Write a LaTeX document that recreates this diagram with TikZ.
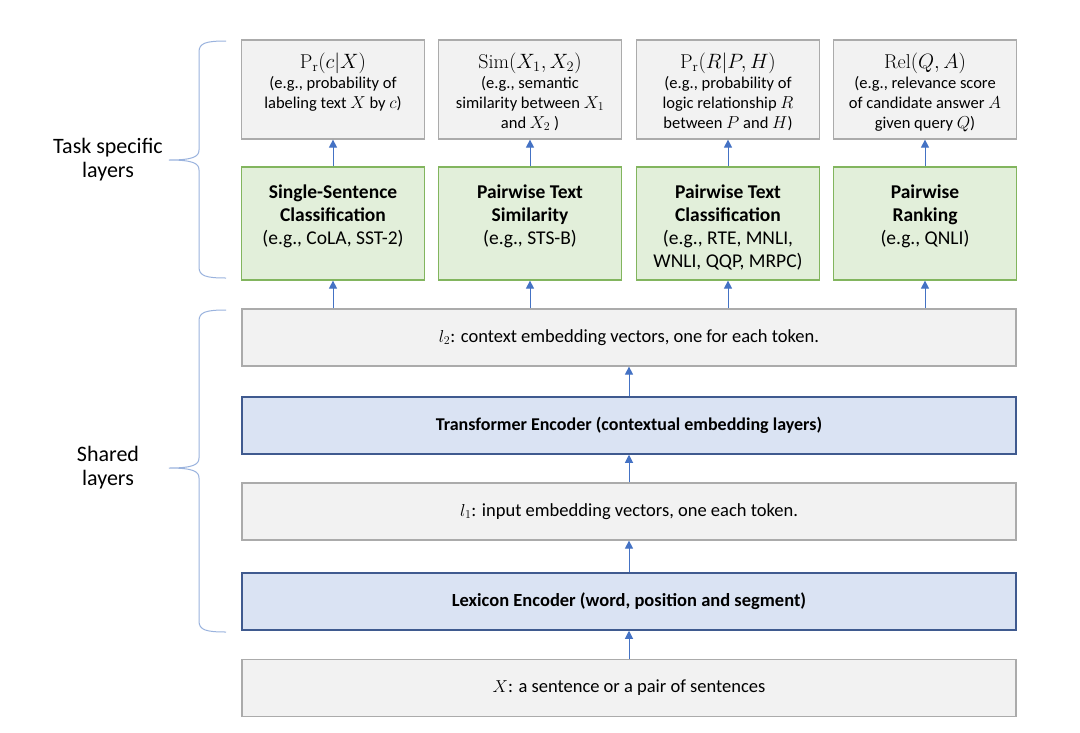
\documentclass[tikz,border=0pt]{standalone}
\usepackage{fontspec}
\setmainfont{Carlito}
\setmathrm{Latin Modern Roman}
\usetikzlibrary{arrows.meta}
\definecolor{grayfill}{HTML}{F2F2F2}
\definecolor{grayline}{HTML}{ABABAB}
\definecolor{greenfill}{HTML}{E2EFDA}
\definecolor{greenline}{HTML}{82B55E}
\definecolor{bluefill}{HTML}{DAE3F3}
\definecolor{blueline}{HTML}{3F5A8F}
\definecolor{arrowblue}{HTML}{4472C4}
\definecolor{bracecol}{HTML}{9AB3DE}
\tikzset{
  outbox/.style={draw=grayline, fill=grayfill, line width=1.2pt, minimum width=183pt, minimum height=99pt, inner sep=0pt},
  taskbox/.style={draw=greenline, fill=greenfill, line width=1.2pt, minimum width=183pt, minimum height=113pt, inner sep=0pt},
  widegray/.style={draw=grayline, fill=grayfill, line width=1.2pt, minimum width=774pt, minimum height=57pt, inner sep=0pt, font=\fontsize{18.5}{22}\selectfont},
  wideblue/.style={draw=blueline, fill=bluefill, line width=1.5pt, minimum width=774pt, minimum height=57pt, inner sep=0pt, font=\bfseries\fontsize{18}{22}\selectfont},
  outtext/.style={anchor=north, align=center, inner sep=0pt, font=\fontsize{16.5}{20}\selectfont},
  tasktext/.style={anchor=north, align=center, inner sep=0pt, font=\fontsize{19.5}{23}\selectfont},
  sidetext/.style={align=center, inner sep=0pt, font=\fontsize{22}{24}\selectfont},
  arr/.style={draw=arrowblue, line width=1pt, -{Triangle[width=8pt,length=8pt]}},
  bracestyle/.style={draw=bracecol, line width=1pt},
}
\newcommand{\ttl}[1]{{\fontsize{20}{20}\selectfont #1}}
\begin{document}
\begin{tikzpicture}[x=1pt,y=-1pt]
\useasboundingbox[fill=white] (0,0) rectangle (1080,732);

% output boxes
\node[outbox] (o1) at (333,89.5) {};
\node[outbox] (o2) at (530,89.5) {};
\node[outbox] (o3) at (728,89.5) {};
\node[outbox] (o4) at (925,89.5) {};
\node[outtext] (o1t) at ([yshift=-13pt]o1.north) {\ttl{$\mathrm{P}_{\mathrm{r}}(c|X)$}\\(e.g., probability of\\labeling text $X$ by $c$)};
\node[outtext] (o2t) at ([yshift=-13pt]o2.north) {\ttl{$\mathrm{Sim}(X_1,X_2)$}\\(e.g., semantic\\similarity between $X_1$\\and $X_2$ )};
\node[outtext] (o3t) at ([yshift=-13pt]o3.north) {\ttl{$\mathrm{P}_{\mathrm{r}}(R|P,H)$}\\(e.g., probability of\\logic relationship $R$\\between $P$ and $H$)};
\node[outtext] (o4t) at ([yshift=-13pt]o4.north) {\ttl{$\mathrm{Rel}(Q,A)$}\\(e.g., relevance score\\of candidate answer $A$\\given query $Q$)};

% task boxes
\node[taskbox] (g1) at (333,223.5) {};
\node[taskbox] (g2) at (530,223.5) {};
\node[taskbox] (g3) at (728,223.5) {};
\node[taskbox] (g4) at (925,223.5) {};
\node[tasktext] (g1t) at ([yshift=-18pt]g1.north) {\textbf{Single-Sentence}\\\textbf{Classification}\\(e.g., CoLA, SST-2)};
\node[tasktext] (g2t) at ([yshift=-18pt]g2.north) {\textbf{Pairwise Text}\\\textbf{Similarity}\\(e.g., STS-B)};
\node[tasktext] (g3t) at ([yshift=-18pt]g3.north) {\textbf{Pairwise Text}\\\textbf{Classification}\\(e.g., RTE, MNLI,\\WNLI, QQP, MRPC)};
\node[tasktext] (g4t) at ([yshift=-18pt]g4.north) {\textbf{Pairwise}\\\textbf{Ranking}\\(e.g., QNLI)};

% shared layers
\node[widegray] (l2) at (629,337.5) {$l_2$: context embedding vectors, one for each token.};
\node[wideblue] (tr) at (629,425.5) {Transformer Encoder (contextual embedding layers)};
\node[widegray] (l1) at (629,511.5) {$l_1$: input embedding vectors, one each token.};
\node[wideblue] (lex) at (629,601.5) {\fontsize{18.5}{22}\selectfont Lexicon Encoder (word, position and segment)};
\node[widegray] (x) at (629,688) {$X$: a sentence or a pair of sentences};

% arrows
\foreach \i in {1,2,3,4} {
  \draw[arr] (g\i.north) -- (o\i.south);
  \draw[arr] (l2.north -| g\i.south) -- (g\i.south);
}
\draw[arr] (tr.north) -- (l2.south);
\draw[arr] (l1.north) -- (tr.south);
\draw[arr] (lex.north) -- (l1.south);
\draw[arr] (x.north) -- (lex.south);

% braces
\draw[bracestyle] (226,41) .. controls (206,41) and (199,43) .. (199,52) -- (199,150)
  .. controls (199,157) and (192,160) .. (169,160)
  .. controls (192,160) and (199,163) .. (199,170) -- (199,267)
  .. controls (199,276) and (206,278) .. (226,278);
\draw[bracestyle] (226,310) .. controls (206,310) and (199,312) .. (199,321) -- (199,458)
  .. controls (199,465) and (192,468) .. (169,468)
  .. controls (192,468) and (199,471) .. (199,478) -- (199,621)
  .. controls (199,630) and (206,632) .. (226,632);

\node[sidetext] (tsl) at (108,160) {Task specific\\layers};
\node[sidetext] (shl) at (108,468) {Shared\\layers};
\end{tikzpicture}
\end{document}
